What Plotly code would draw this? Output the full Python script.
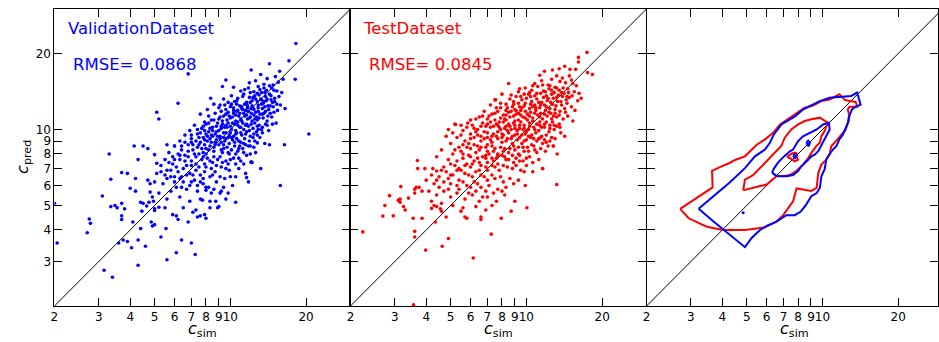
import math
import plotly.graph_objects as go

# ---------------- data ----------------
TICK_VALS = [2, 3, 4, 5, 6, 7, 8, 9, 10, 20]
X_TICK_TEXT = ["2", "3", "4", "5", "6", "7", "8", "9", "10", "20"]
Y_TICK_VALS = [3, 4, 5, 6, 7, 8, 9, 10, 20]
Y_TICK_TEXT = ["3", "4", "5", "6", "7", "8", "9", "10", "20"]

VAL_TITLE = "ValidationDataset"
VAL_RMSE = "RMSE= 0.0868"
TEST_TITLE = "TestDataset"
TEST_RMSE = "RMSE= 0.0845"

val_points = [
    # outliers
    (18.2, 21.9), (17.1, 18.7), (18.1, 15.8), (20.5, 9.6), (15.8, 6.0), (16.4, 8.7), (14.3, 8.7),
    (6.8, 16.6), (5.1, 11.7), (5.2, 11.0), (6.2, 12.7), (2.0, 5.1), (2.05, 3.55), (2.7, 3.9),
    (2.75, 4.42), (2.78, 4.25), (3.1, 5.45), (3.3, 8.0), (3.15, 2.77), (3.4, 2.6), (3.35, 6.35),
    (3.35, 4.95), (3.48, 5.0), (3.55, 4.9), (3.7, 5.1), (3.7, 4.4), (3.7, 6.75), (3.9, 6.7),
    (3.8, 4.85), (3.6, 3.55), (3.75, 3.65), (3.9, 3.6), (4.05, 3.4), (4.3, 3.65), (4.3, 2.9),
    (4.0, 5.85), (4.2, 6.4), (4.2, 5.7), (4.15, 8.6), (4.3, 7.6), (4.4, 5.15), (4.5, 8.6),
    (4.45, 4.75), (4.4, 4.05), (4.6, 3.45), (4.7, 8.4), (4.8, 6.1), (4.8, 5.65), (5.0, 7.95),
    (5.0, 4.85), (5.1, 7.35), (4.85, 4.3), (4.9, 4.15), (5.3, 3.75), (5.6, 3.05), (6.1, 3.25),
    (6.4, 3.65), (7.0, 3.55), (7.25, 3.2), (5.6, 8.7), (6.0, 8.6), (6.1, 4.55), (10.5, 5.15),
    (11.6, 6.45), (12.8, 8.85), (12.1, 7.4), (8.35, 13.3), (9.6, 15.7), (9.3, 14.8),
    (3.7, 4.55), (4.1, 4.3), (4.5, 5.1), (4.75, 5.15), (4.65, 4.98), (4.95, 5.2), (5.0, 4.2),
    (5.55, 4.05), (5.0, 4.78), (5.2, 4.92), (9.0, 4.95), (8.0, 4.45), (8.75, 5.2), (9.2, 5.7),
    (8.4, 5.6), (8.0, 5.75), (7.75, 5.25), (7.6, 4.55), (7.3, 4.8), (8.3, 4.9), (10.5, 6.5),
    (11.3, 7.3), (12.1, 7.45),
    # main cloud
    (12.1, 17.2), (14.3, 18.2), (15.7, 17.0), (15.1, 16.2), (13.2, 16.5), (12.6, 15.6), (14.0, 15.9),
    (15.5, 15.4), (16.2, 15.8), (13.6, 15.1), (11.9, 15.3), (14.8, 15.0), (12.9, 14.8),
    (11.0, 14.2), (11.8, 14.6), (12.4, 14.1), (13.1, 14.4), (13.9, 14.3), (14.6, 14.6), (15.3, 14.2),
    (10.3, 14.7), (12.8, 13.9), (14.3, 13.8), (15.6, 13.5), (16.0, 14.0),
    (9.4, 13.2), (10.1, 13.6), (10.7, 13.3), (11.3, 13.8), (11.9, 13.4), (12.5, 13.6), (13.2, 13.2),
    (13.8, 13.5), (14.5, 13.1), (15.0, 12.9), (10.4, 12.9), (11.6, 12.8), (12.2, 13.0), (13.5, 12.7),
    (9.8, 12.8), (15.8, 12.5), (14.1, 12.4),
    (8.6, 12.6), (9.0, 12.2), (9.5, 12.5), (10.0, 12.3), (10.6, 12.6), (11.1, 12.1), (11.7, 12.4),
    (12.3, 12.2), (12.9, 12.5), (13.4, 12.1), (14.2, 12.0), (14.8, 12.3), (15.4, 11.9), (9.2, 11.8),
    (10.3, 11.9), (10.9, 11.6), (11.5, 11.9), (12.6, 11.7), (13.1, 11.5), (13.8, 11.8), (8.1, 12.0),
    (16.5, 12.1),
    (7.6, 11.5), (8.2, 11.3), (8.7, 11.6), (9.1, 11.2), (9.6, 11.5), (10.0, 11.1), (10.5, 11.4),
    (11.0, 11.0), (11.4, 11.3), (11.9, 11.1), (12.4, 11.4), (12.8, 10.9), (13.5, 11.1), (14.0, 10.8),
    (14.6, 11.2), (8.4, 10.9), (9.3, 10.8), (9.8, 10.6), (10.7, 10.7), (11.6, 10.5), (12.2, 10.8),
    (7.9, 10.7), (15.2, 10.6), (13.0, 10.4),
    (7.2, 10.4), (7.7, 10.1), (8.0, 10.5), (8.5, 10.2), (8.9, 10.6), (9.2, 10.1), (9.6, 10.4),
    (10.1, 10.0), (10.4, 10.5), (10.9, 10.2), (11.3, 10.0), (11.8, 10.3), (12.3, 10.1), (12.7, 9.8),
    (13.4, 10.2), (14.2, 9.9), (8.2, 9.8), (8.7, 9.6), (9.4, 9.7), (9.9, 9.5), (10.6, 9.7),
    (11.1, 9.5), (11.6, 9.8), (6.9, 9.9), (14.7, 10.5), (12.0, 9.4),
    (6.6, 9.5), (7.0, 9.2), (7.4, 9.6), (7.8, 9.3), (8.1, 9.0), (8.5, 9.4), (8.8, 9.1), (9.1, 9.4),
    (9.5, 9.0), (9.8, 9.3), (10.2, 9.1), (10.6, 9.2), (11.0, 8.9), (11.4, 9.2), (12.5, 9.0),
    (13.1, 9.3), (7.6, 8.9), (8.3, 8.6), (9.0, 8.7), (9.7, 8.5), (10.4, 8.6), (11.2, 8.4), (6.3, 9.0),
    (13.7, 8.8), (12.0, 8.6), (8.0, 8.4),
    (6.0, 8.6), (6.4, 8.3), (6.8, 8.7), (7.1, 8.3), (7.4, 8.5), (7.8, 8.1), (8.6, 8.2), (9.3, 8.1),
    (9.9, 8.0), (10.7, 8.2), (11.6, 7.9), (12.6, 8.1), (6.6, 7.9), (7.3, 7.8), (8.1, 7.7), (8.9, 7.6),
    (9.6, 7.5), (10.3, 7.7), (11.0, 7.5), (5.7, 8.1), (12.2, 7.4), (6.2, 8.0),
    (5.5, 7.6), (5.9, 7.3), (6.3, 7.6), (6.7, 7.2), (7.0, 7.5), (7.5, 7.1), (7.9, 7.3), (8.4, 7.0),
    (9.2, 7.1), (9.9, 6.9), (10.8, 7.0), (5.8, 6.9), (6.2, 6.8), (6.9, 6.7), (7.6, 6.6), (8.3, 6.5),
    (9.5, 6.4), (5.3, 7.2), (11.5, 6.7), (13.2, 7.0),
    (5.1, 6.7), (5.6, 6.4), (6.0, 6.5), (6.5, 6.2), (7.2, 6.3), (7.8, 6.1), (8.8, 6.2), (5.4, 6.1),
    (6.1, 5.9), (6.7, 5.8), (7.4, 5.7), (8.2, 5.9), (9.1, 5.6), (10.2, 6.0), (5.0, 6.2), (4.7, 6.3),
    (11.8, 6.2), (5.8, 5.7),
    (5.2, 5.6), (5.6, 5.3), (6.3, 5.4), (6.9, 5.2), (7.6, 5.3), (8.3, 5.2), (9.6, 5.3), (5.5, 4.9),
    (6.5, 4.9), (7.1, 4.7), (7.9, 4.6), (8.9, 4.9), (5.9, 4.6), (6.2, 4.4), (6.8, 4.3), (7.4, 4.5),
    (4.9, 5.4), (9.8, 5.6),
    (7.9, 9.9), (8.3, 10.1), (8.8, 10.3), (9.3, 10.5), (9.7, 10.9), (10.2, 11.2), (10.8, 11.3),
    (11.3, 11.6), (11.8, 11.8), (12.4, 12.0), (12.9, 12.2), (13.3, 12.6), (8.5, 9.9), (9.0, 9.9),
    (9.5, 10.2), (10.0, 10.3), (10.5, 10.8), (11.1, 10.8), (11.7, 11.0), (12.1, 11.6), (12.7, 11.2),
    (13.6, 11.6), (8.1, 9.4), (8.9, 9.4), (9.4, 9.3), (10.0, 9.7), (10.5, 9.9), (11.0, 10.2),
    (11.5, 10.4), (12.1, 10.5), (12.5, 10.6), (7.6, 9.7), (7.3, 9.0), (7.9, 8.7), (8.4, 8.9),
    (9.2, 8.9), (9.6, 9.7), (10.3, 9.4), (10.8, 9.0), (11.5, 8.7), (12.3, 9.3), (7.0, 8.9),
    (7.7, 8.4), (8.6, 8.5), (9.4, 8.4), (10.1, 8.3), (10.9, 8.6), (11.9, 9.0), (12.8, 9.5),
    (13.4, 9.7), (14.0, 10.4), (9.8, 11.7), (10.3, 12.2), (10.9, 12.4), (11.4, 12.6), (12.0, 12.8),
    (12.6, 13.2), (13.0, 13.7), (13.7, 14.0), (14.3, 14.9), (13.6, 12.9), (14.4, 11.6), (14.9, 11.7),
    (12.9, 10.0), (13.8, 10.5), (6.8, 7.8), (7.2, 8.0), (7.7, 7.6), (8.5, 7.4), (9.1, 7.8),
    (9.8, 7.3), (10.5, 7.3), (6.5, 7.0), (7.3, 6.9), (7.9, 6.8), (8.7, 6.8), (6.1, 7.1), (5.6, 6.9),
    (6.4, 6.5), (6.9, 6.0), (7.6, 6.2),
    (7.4, 10.0), (7.8, 10.3), (8.2, 10.6), (8.6, 10.9), (9.0, 11.0), (9.4, 11.3), (9.9, 11.3),
    (10.3, 11.6), (10.7, 11.9), (11.2, 12.0), (11.7, 12.2), (12.2, 12.4), (12.8, 12.9), (13.3, 13.1),
    (13.9, 13.0), (14.5, 13.6), (8.0, 9.6), (8.4, 9.5), (8.8, 9.8), (9.2, 10.3), (9.7, 10.2),
    (10.2, 10.6), (10.7, 10.4), (11.2, 10.6), (11.6, 11.4), (12.0, 11.2), (12.5, 11.0), (13.0, 11.1),
    (13.4, 11.5), (14.1, 11.3), (7.0, 9.5), (7.5, 9.3), (7.9, 9.1), (8.3, 9.2), (8.7, 8.9),
    (9.1, 9.2), (9.6, 9.2), (10.1, 9.3), (10.5, 9.6), (11.0, 9.7), (11.5, 9.6), (11.9, 9.9),
    (12.4, 9.6), (12.8, 10.3), (13.3, 10.0), (6.6, 8.9), (7.1, 8.7), (7.5, 8.7), (8.2, 8.3),
    (8.7, 8.7), (9.4, 8.7), (9.9, 8.8), (10.4, 8.9), (10.8, 8.4), (11.3, 8.8), (11.8, 8.6),
    (12.4, 8.5), (6.4, 8.6), (6.8, 8.2), (7.5, 8.0), (8.0, 8.0), (8.6, 7.8), (9.2, 8.3), (9.8, 8.1),
    (10.5, 8.0), (11.3, 8.1), (12.0, 8.0), (5.9, 7.8), (6.3, 7.9), (7.0, 7.2), (7.8, 7.8), (8.3, 7.5),
    (9.3, 7.4), (10.0, 7.6), (10.8, 7.7), (5.7, 7.4), (6.0, 7.6), (6.6, 7.5), (7.3, 7.3), (8.0, 7.1),
    (8.8, 7.2), (9.6, 7.0), (5.3, 6.8), (5.8, 6.5), (6.3, 6.4), (6.7, 6.6), (7.1, 6.6), (7.8, 6.4),
    (8.5, 6.6), (9.1, 6.5), (10.0, 6.5), (5.5, 6.6), (6.0, 6.2), (6.4, 5.9), (7.0, 6.2), (7.4, 6.0),
    (8.0, 5.9), (8.6, 5.8), (9.4, 5.9), (10.6, 11.8), (11.1, 12.3), (11.6, 12.6), (12.1, 12.1),
    (12.9, 11.8), (13.7, 12.3), (14.4, 12.4), (15.0, 13.3), (9.1, 12.5), (9.6, 12.0), (10.1, 12.6),
    (10.6, 13.0), (11.2, 13.5), (12.3, 13.4), (13.3, 14.0), (14.0, 13.2), (14.7, 12.8), (15.3, 12.6),
    (12.0, 14.0), (13.6, 14.6), (14.9, 14.3), (11.4, 14.4),
]

test_points = [
    (17.4, 20.2), (16.1, 19.3), (16.1, 18.5), (15.7, 17.3), (14.9, 17.3), (17.5, 16.8), (18.3, 16.5),
    (11.8, 17.0), (15.5, 14.1), (16.2, 13.9), (16.0, 13.0), (15.8, 14.9), (15.1, 15.7), (14.8, 16.3),
    (13.9, 16.0), (13.2, 16.3), (12.6, 15.8), (14.3, 15.3), (13.6, 15.5), (12.2, 15.0), (11.5, 15.6),
    (10.8, 15.2), (13.0, 14.7), (14.6, 14.5), (15.3, 15.2), (12.7, 17.2), (13.5, 17.4), (14.2, 17.8),
    (11.3, 16.4),
    (9.9, 14.6), (10.5, 14.3), (11.1, 14.8), (11.7, 14.2), (12.3, 14.5), (12.9, 14.0), (13.5, 14.3),
    (14.1, 13.9), (14.7, 14.0), (10.2, 13.8), (10.8, 13.6), (11.4, 13.9), (12.0, 13.6), (12.6, 13.8),
    (13.2, 13.4), (13.9, 13.5), (15.2, 13.6), (9.3, 14.1), (16.5, 13.3),
    (8.6, 13.2), (9.1, 13.5), (9.6, 13.1), (10.0, 13.3), (10.5, 12.9), (11.0, 13.2), (11.5, 12.8),
    (12.1, 13.0), (12.7, 12.6), (13.3, 12.9), (13.8, 12.5), (14.5, 12.7), (15.1, 12.3), (8.3, 12.6),
    (8.8, 12.3), (9.3, 12.7), (9.8, 12.4), (10.3, 12.1), (10.8, 12.5), (11.3, 12.2), (11.8, 12.5),
    (12.4, 12.1), (13.0, 12.0), (13.6, 11.8), (14.2, 12.1), (7.9, 12.2), (7.5, 13.1), (8.0, 13.8),
    (7.2, 12.5), (15.6, 11.9),
    (6.8, 11.8), (7.3, 11.5), (7.7, 11.8), (8.1, 11.4), (8.5, 11.7), (8.9, 11.3), (9.3, 11.6),
    (9.7, 11.2), (10.1, 11.5), (10.6, 11.1), (11.1, 11.4), (11.6, 11.0), (12.1, 11.3), (12.6, 11.0),
    (13.2, 11.2), (14.0, 11.0), (6.5, 11.2), (7.0, 11.0), (7.5, 10.9), (8.3, 10.9), (9.0, 10.8),
    (9.5, 10.7), (10.3, 10.6), (11.3, 10.7), (12.4, 10.4), (13.5, 10.5), (14.6, 11.3), (15.3, 10.8),
    (5.2, 10.5), (5.85, 10.6), (6.1, 10.4), (6.9, 10.3), (6.4, 10.0), (6.8, 9.8), (7.2, 10.2),
    (7.6, 10.5), (7.9, 10.0), (8.3, 10.3), (8.7, 10.0), (9.0, 10.4), (9.4, 10.1), (9.8, 10.4),
    (10.2, 10.0), (10.7, 10.2), (11.2, 9.9), (11.8, 10.2), (12.3, 9.8), (12.9, 10.0), (13.7, 9.7),
    (7.4, 9.6), (8.1, 9.5), (8.5, 9.7), (9.2, 9.6), (9.9, 9.6), (10.5, 9.5), (11.5, 9.4), (12.6, 9.3),
    (14.2, 9.4), (5.6, 9.9), (6.0, 9.6),
    (5.3, 9.3), (5.7, 9.0), (6.2, 9.3), (6.6, 9.0), (7.0, 9.3), (7.3, 8.9), (7.7, 9.2), (8.0, 8.9),
    (8.4, 9.2), (8.8, 8.8), (9.2, 9.1), (9.6, 8.8), (10.0, 9.1), (10.5, 8.7), (11.0, 9.0), (11.6, 8.8),
    (12.2, 8.6), (12.8, 8.6), (6.4, 8.6), (6.9, 8.5), (7.5, 8.4), (8.2, 8.4), (9.0, 8.3), (9.8, 8.2),
    (10.8, 8.3), (5.0, 8.8), (4.8, 9.4), (13.25, 8.0), (5.4, 8.5),
    (4.6, 8.3), (5.1, 8.0), (5.5, 8.2), (5.9, 7.9), (6.3, 8.1), (6.7, 7.8), (7.1, 8.0), (7.6, 7.7),
    (8.0, 7.9), (8.5, 7.6), (9.1, 7.7), (9.7, 7.5), (10.3, 7.8), (11.2, 7.6), (4.9, 7.6), (5.3, 7.5),
    (5.8, 7.3), (6.2, 7.5), (6.6, 7.2), (7.0, 7.4), (7.5, 7.1), (8.1, 7.2), (8.8, 7.0), (9.5, 6.9),
    (10.6, 6.8), (11.6, 7.0), (4.4, 7.8),
    (3.69, 7.54), (3.7, 7.0), (3.95, 7.0), (4.25, 7.0), (4.4, 6.85), (4.2, 6.6), (4.5, 6.5), (4.8, 6.8),
    (5.1, 6.6), (5.5, 6.9), (5.9, 6.6), (6.3, 6.8), (6.8, 6.5), (7.3, 6.6), (7.9, 6.5), (8.6, 6.4),
    (9.3, 6.3), (4.7, 6.2), (5.0, 6.1), (5.4, 6.3), (5.8, 6.0), (6.2, 6.2), (6.6, 5.9), (7.1, 6.0),
    (7.7, 5.8), (8.3, 5.9), (9.9, 6.0), (4.3, 6.1), (4.0, 6.3),
    (3.17, 5.94), (3.65, 5.9), (3.75, 5.9), (3.85, 5.7), (3.6, 5.8), (3.6, 5.6), (4.1, 5.7), (4.4, 5.5),
    (4.7, 5.7), (5.0, 5.4), (5.3, 5.6), (5.7, 5.3), (6.1, 5.5), (6.5, 5.2), (7.0, 5.4), (7.6, 5.2),
    (8.2, 5.5), (9.0, 5.2), (4.2, 5.2), (4.6, 5.1), (5.1, 5.0), (5.6, 4.9), (6.3, 4.95), (6.9, 4.8),
    (3.4, 5.35), (3.15, 5.3), (3.15, 5.15), (3.1, 5.25), (2.86, 5.47), (2.74, 5.0),
    (2.69, 4.54), (2.96, 4.55), (3.25, 4.95), (3.3, 4.8), (3.55, 4.45), (3.85, 4.45), (3.6, 3.95),
    (3.6, 3.75), (3.98, 3.33), (4.63, 3.45), (4.9, 3.7), (6.15, 3.1), (7.25, 3.85), (2.24, 3.93),
    (3.56, 2.02), (4.35, 4.3), (4.6, 4.75), (4.8, 4.5), (4.3, 5.0), (4.2, 4.87), (4.4, 4.95),
    (4.55, 4.85), (6.6, 4.4), (6.6, 4.5), (5.5, 4.75), (5.7, 4.5), (5.8, 4.45), (7.95, 4.45),
    (8.7, 4.75), (10.05, 4.9), (13.2, 6.05), (11.6, 7.0), (12.8, 8.6), (5.23, 10.46), (8.5, 15.2),
    (7.55, 13.1),
    (7.8, 10.7), (8.2, 11.0), (8.6, 11.2), (9.1, 11.9), (9.5, 11.4), (9.9, 11.8), (10.4, 11.7),
    (10.9, 11.9), (11.4, 11.6), (11.9, 11.9), (12.5, 11.6), (13.0, 11.6), (7.2, 10.7), (7.7, 10.4),
    (8.1, 10.7), (8.5, 10.5), (8.9, 10.6), (9.3, 10.9), (9.7, 10.0), (10.1, 10.9), (10.6, 10.8),
    (11.0, 10.5), (11.5, 10.2), (12.0, 10.7), (12.7, 10.7), (13.2, 10.3), (6.7, 10.6), (6.3, 9.8),
    (6.6, 9.4), (7.0, 9.7), (7.3, 9.4), (7.7, 9.8), (8.0, 9.3), (8.4, 9.9), (8.8, 9.4), (9.2, 9.9),
    (9.6, 9.5), (10.0, 9.8), (10.4, 9.3), (10.9, 9.7), (11.4, 9.3), (12.0, 9.5), (13.0, 9.2),
    (5.9, 8.8), (6.5, 8.3), (7.0, 8.7), (7.4, 8.2), (7.9, 8.5), (8.6, 8.4), (9.3, 8.5), (10.1, 8.5),
    (11.0, 8.1), (11.9, 8.2), (6.0, 8.4), (5.6, 8.7), (9.0, 12.0), (9.6, 12.2), (10.6, 12.3),
    (11.2, 12.8), (11.7, 13.4), (12.2, 13.3), (12.8, 13.3), (13.4, 13.7), (14.0, 14.6), (14.8, 13.4),
    (10.3, 14.0), (9.8, 13.8), (8.9, 12.9), (7.6, 12.2), (8.3, 11.9), (6.3, 11.0), (5.8, 10.2),
    (5.5, 9.5), (6.9, 7.7), (7.4, 7.5), (8.2, 7.8), (8.9, 7.4), (9.4, 7.9), (10.0, 7.2), (6.0, 7.1),
    (6.5, 6.9), (7.0, 6.9), (7.8, 6.9), (5.2, 7.2), (5.6, 7.7), (4.7, 7.1),
    (6.2, 10.1), (6.6, 10.3), (7.0, 10.5), (7.4, 10.3), (7.8, 10.2), (8.2, 10.1), (8.6, 10.3),
    (9.0, 10.1), (9.4, 10.4), (9.8, 10.1), (10.3, 10.3), (10.8, 10.0), (11.3, 10.4), (11.8, 10.5),
    (12.4, 10.1), (12.9, 10.4), (13.6, 10.2), (6.0, 9.2), (6.4, 9.5), (6.8, 9.2), (7.2, 9.1),
    (7.6, 9.4), (8.0, 9.6), (8.3, 9.0), (8.7, 9.2), (9.0, 9.5), (9.4, 9.3), (9.8, 9.0), (10.2, 9.4),
    (10.7, 9.2), (11.2, 9.2), (11.8, 9.1), (12.4, 9.0), (5.8, 8.5), (6.2, 8.7), (6.6, 8.5), (7.0, 8.2),
    (7.3, 8.6), (7.7, 8.0), (8.1, 8.2), (8.5, 8.1), (8.9, 8.6), (9.3, 8.0), (9.7, 8.5), (10.2, 8.2),
    (10.7, 8.6), (11.4, 8.4), (12.0, 8.9), (5.2, 8.3), (5.6, 8.0), (6.0, 7.8), (6.4, 7.7), (6.9, 7.9),
    (7.3, 7.7), (7.7, 7.9), (8.3, 7.6), (8.8, 7.9), (9.4, 7.5), (10.0, 7.7), (10.6, 7.4), (5.0, 7.3),
    (5.4, 7.0), (5.7, 7.2), (6.1, 7.3), (6.5, 7.4), (6.9, 7.1), (7.3, 7.2), (7.7, 7.3), (8.4, 7.1),
    (9.1, 7.2), (9.8, 6.8), (4.6, 6.9), (5.0, 6.6), (5.3, 6.9), (5.7, 6.7), (6.1, 6.5), (6.6, 6.6),
    (7.0, 6.3), (7.5, 6.4), (8.1, 6.2), (8.9, 6.1), (4.4, 6.3), (4.9, 6.4), (5.3, 6.0), (5.6, 6.2),
    (6.0, 5.9), (6.4, 6.1), (6.9, 5.7), (7.4, 5.6), (8.0, 5.7), (4.5, 5.9), (4.9, 5.8), (5.4, 5.8),
    (5.9, 5.6), (6.3, 5.7), (6.7, 5.4), (7.3, 5.0), (6.7, 11.3), (7.1, 11.3), (7.5, 11.6), (7.9, 11.1),
    (8.3, 11.4), (8.7, 11.8), (9.1, 11.5), (9.5, 11.9), (9.9, 11.1), (10.3, 11.3), (10.8, 11.6),
    (11.3, 11.2), (11.8, 11.5), (12.3, 11.7), (12.8, 11.3), (13.5, 11.4), (14.3, 11.7), (7.9, 12.7),
    (8.4, 12.2), (8.9, 12.6), (9.4, 12.3), (9.9, 12.7), (10.4, 12.6), (10.9, 12.2), (11.4, 12.5),
    (12.0, 12.3), (12.5, 12.8), (13.1, 12.4), (13.7, 12.9), (14.4, 13.1), (8.7, 13.7), (9.5, 13.5),
    (10.4, 13.5), (11.0, 13.9), (11.9, 14.1), (12.6, 14.3), (13.2, 14.6), (13.8, 14.0), (14.5, 13.5),
    (10.6, 14.9), (11.6, 15.0), (12.4, 14.9), (9.4, 14.5), (6.0, 10.9), (5.5, 10.4), (4.9, 10.0),
    (5.1, 9.7),
]

# contour lines (density contours)
blue_outer = [
    (3.22, 4.85), (3.91, 5.69), (4.29, 6.18), (4.92, 7.03), (5.39, 7.83), (5.91, 8.33), (6.18, 8.86),
    (6.41, 9.56), (6.87, 10.47), (7.80, 11.3), (8.37, 12.0), (9.02, 12.45), (9.76, 12.96),
    (10.68, 13.36), (12.04, 13.49), (13.0, 13.58), (13.73, 14.0), (14.17, 12.54), (13.5, 12.3),
    (13.1, 12.0), (13.0, 11.8), (12.7, 11.13), (12.7, 10.8), (12.36, 10.15), (12.07, 9.56),
    (11.67, 9.14), (11.35, 8.58), (11.0, 8.33), (10.68, 8.02), (10.36, 7.64), (10.2, 6.96),
    (9.9, 6.53), (9.76, 5.87), (9.48, 5.6), (9.03, 5.44), (8.6, 5.03), (8.2, 4.73), (7.76, 4.58),
    (7.18, 4.58), (6.57, 4.32), (6.0, 4.15), (5.65, 4.0), (5.39, 3.83), (5.22, 3.71), (4.92, 3.42),
    (4.52, 3.66), (4.29, 3.83), (4.03, 4.0), (3.69, 4.32), (3.22, 4.85),
]
red_outer = [
    (2.72, 4.85), (2.94, 4.45), (3.47, 4.12), (4.03, 4.0), (4.92, 4.0), (5.91, 4.1), (6.57, 4.32),
    (6.98, 4.58), (7.64, 5.19), (7.89, 5.84), (8.37, 5.79), (9.02, 5.71), (9.48, 5.87), (9.62, 6.72),
    (9.9, 7.26), (10.36, 7.59), (10.68, 8.02), (10.84, 8.58), (11.48, 9.14), (12.07, 9.7),
    (12.36, 10.0), (12.6, 10.6), (12.8, 11.3), (12.6, 12.0), (12.8, 12.3), (13.75, 12.3),
    (13.55, 12.85), (12.8, 12.96), (12.26, 13.1), (11.67, 13.8), (11.0, 13.36), (10.68, 13.15),
    (9.9, 12.96), (9.17, 12.45), (8.5, 12.2), (7.89, 11.6), (7.52, 11.14), (6.98, 10.6),
    (6.78, 10.47), (6.37, 9.7), (5.91, 9.14), (5.48, 8.7), (4.92, 7.83), (4.52, 7.59), (4.25, 7.35),
    (3.91, 7.1), (3.64, 6.86), (3.66, 5.9), (3.18, 5.37), (2.72, 4.85),
]
red_middle = [
    (4.84, 5.74), (4.92, 6.33), (5.31, 6.6), (5.83, 7.26), (6.25, 7.77), (6.57, 8.2), (6.87, 8.62),
    (7.07, 9.26), (7.52, 10.0), (8.0, 10.47), (8.5, 10.8), (9.03, 10.97), (9.76, 11.14),
    (10.6, 10.56), (10.36, 10.3), (10.2, 9.85), (9.9, 9.4), (9.76, 8.86), (9.48, 8.62), (9.03, 8.08),
    (8.77, 7.7), (8.37, 7.26), (7.89, 6.86), (7.42, 6.6), (6.98, 6.53), (6.57, 6.53), (6.25, 6.25),
    (6.0, 6.05), (5.65, 5.97), (5.31, 5.87), (4.84, 5.74),
]
blue_middle = [
    (6.3, 6.75), (6.44, 7.05), (6.65, 7.37), (6.87, 7.65), (7.18, 7.96), (7.42, 8.2), (7.64, 8.33),
    (7.76, 8.58), (8.0, 9.0), (8.37, 9.4), (8.9, 9.7), (9.48, 10.0), (10.06, 10.47), (10.6, 10.63),
    (10.68, 10.0), (10.52, 9.7), (10.2, 9.14), (10.06, 8.86), (9.9, 8.58), (9.62, 8.2), (9.34, 7.96),
    (9.03, 7.83), (8.77, 7.59), (8.5, 7.37), (8.24, 7.15), (8.0, 6.84), (7.64, 6.6), (7.18, 6.53),
    (6.78, 6.53), (6.57, 6.55), (6.3, 6.75),
]
red_inner = [
    (7.23, 7.8), (7.52, 8.02), (7.76, 8.1), (7.89, 8.05), (7.89, 7.83), (8.0, 7.59), (7.76, 7.48),
    (7.52, 7.65), (7.23, 7.8),
]
blue_inner_a = [(7.64, 7.87), (7.76, 8.0), (7.89, 7.87), (7.78, 7.7), (7.64, 7.87)]
blue_inner_b = [(8.63, 8.86), (8.77, 9.03), (8.92, 8.86), (8.8, 8.58), (8.63, 8.86)]
blue_dot = [(4.84, 4.68)]

DIAG = [2, 30]

# ---------------- figure ----------------
W, H = 939, 342
BLUE = "#0000ff"
RED = "#ff0000"
FONT = "DejaVu Sans"

left_px = [50.7, 348.3, 646.0]
panel_w = 297.6
top_px, bot_px = 9.0, 306.0
dec_px = panel_w / (math.log10(30) - math.log10(2))

fig = go.Figure()


def xy(pts):
    return [p[0] for p in pts], [p[1] for p in pts]


for i in range(3):
    ax = "" if i == 0 else str(i + 1)
    fig.add_trace(go.Scatter(x=DIAG, y=DIAG, mode="lines", line=dict(color="black", width=1),
                             xaxis="x" + ax, yaxis="y" + ax, showlegend=False, hoverinfo="skip"))

vx, vy = xy(val_points)
fig.add_trace(go.Scatter(x=vx, y=vy, mode="markers", marker=dict(color=BLUE, size=3.6),
                         xaxis="x", yaxis="y", showlegend=False))
tx, ty = xy(test_points)
fig.add_trace(go.Scatter(x=tx, y=ty, mode="markers", marker=dict(color=RED, size=3.6),
                         xaxis="x2", yaxis="y2", showlegend=False))

for pts, col in [(red_outer, RED), (blue_outer, BLUE), (red_middle, RED), (blue_middle, BLUE),
                 (red_inner, RED), (blue_inner_a, BLUE), (blue_inner_b, BLUE)]:
    cx, cy = xy(pts)
    fig.add_trace(go.Scatter(x=cx, y=cy, mode="lines", line=dict(color=col, width=2),
                             xaxis="x3", yaxis="y3", showlegend=False))
dx, dy = xy(blue_dot)
fig.add_trace(go.Scatter(x=dx, y=dy, mode="markers", marker=dict(color=BLUE, size=3),
                         xaxis="x3", yaxis="y3", showlegend=False))

common = dict(type="log", showgrid=False, zeroline=False, ticks="inside", ticklen=8, tickwidth=1,
              tickcolor="black", showline=True, linecolor="black", linewidth=1, mirror="ticks",
              tickangle=0, tickfont=dict(family=FONT, size=12, color="black"))

ydom = [1 - bot_px / H, 1 - top_px / H]
for i in range(3):
    key = "" if i == 0 else str(i + 1)
    x0 = left_px[i]
    x1 = min(x0 + panel_w, W)
    xmax = 10 ** (math.log10(2) + (x1 - x0) / dec_px)
    fig.layout["xaxis" + key] = dict(common, domain=[x0 / W, x1 / W],
                                     range=[math.log10(2), math.log10(xmax)],
                                     tickvals=TICK_VALS, ticktext=X_TICK_TEXT,
                                     anchor="y" + key)
    fig.layout["yaxis" + key] = dict(common, domain=ydom, range=[math.log10(2), math.log10(30)],
                                     tickvals=Y_TICK_VALS, ticktext=Y_TICK_TEXT,
                                     showticklabels=(i == 0), anchor="x" + key)

ann = []
for i in range(3):
    cx = left_px[i] + panel_w / 2
    ann.append(dict(text="<i>c</i><sub>sim</sub>", x=cx / W, y=0, xref="paper",
                    yref="paper", showarrow=False, xanchor="center", yanchor="bottom",
                    font=dict(family=FONT, size=16, color="black")))
ann.append(dict(text="<i>c</i><sub>pred</sub>", x=20 / W, y=1 - 157 / H, xref="paper",
                yref="paper", showarrow=False, textangle=-90, xanchor="center", yanchor="middle",
                font=dict(family=FONT, size=16, color="black")))
for txt, x, y, col in [(VAL_TITLE, 62, 29, BLUE), (VAL_RMSE, 67, 65, BLUE),
                       (TEST_TITLE, 359, 29, RED), (TEST_RMSE, 365, 65, RED)]:
    ann.append(dict(text=txt, x=x / W, y=1 - y / H, xref="paper", yref="paper", showarrow=False,
                    xanchor="left", yanchor="middle", font=dict(family=FONT, size=16.5, color=col)))

fig.update_layout(width=W, height=H, margin=dict(l=0, r=0, t=0, b=0), plot_bgcolor="white",
                  paper_bgcolor="white", annotations=ann)

fig.write_html("out.html")
